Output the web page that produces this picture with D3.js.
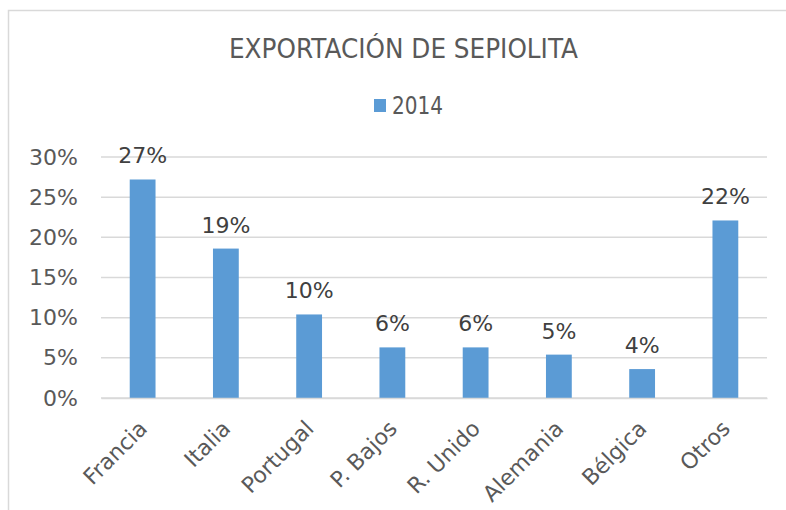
<!DOCTYPE html>
<html>
<head>
<meta charset="utf-8">
<script src="https://cdn.jsdelivr.net/npm/d3@7"></script>
<style>
  html, body { margin: 0; padding: 0; background: #fff; }
  svg { display: block; font-family: "DejaVu Sans", Verdana, sans-serif; }
</style>
</head>
<body>
<script>
const title = "EXPORTACIÓN DE SEPIOLITA";
const seriesName = "2014";
const categories = ["Francia", "Italia", "Portugal", "P. Bajos", "R. Unido", "Alemania", "Bélgica", "Otros"];
const values = [0.272, 0.186, 0.104, 0.063, 0.063, 0.054, 0.036, 0.221];
const valueLabels = ["27%", "19%", "10%", "6%", "6%", "5%", "4%", "22%"];
const yTicks = [0, 0.05, 0.10, 0.15, 0.20, 0.25, 0.30];

const W = 786, H = 510;
const margin = { left: 101, right: 19, top: 157, bottom: 112 };
const barColor = "#5b9bd5";
const gridColor = "#d9d9d9";
const textColor = "#595959";

const svg = d3.select("body").append("svg").attr("width", W).attr("height", H);

// chart border
svg.append("rect")
  .attr("x", 8.5).attr("y", 10.5).attr("width", 820).attr("height", 540)
  .attr("fill", "#fff").attr("stroke", gridColor).attr("stroke-width", 1.5);

const x = d3.scaleBand().domain(categories).range([margin.left, W - margin.right]).paddingInner(0.69).paddingOuter(0.345);
const y = d3.scaleLinear().domain([0, 0.30]).range([H - margin.bottom, margin.top]);

// gridlines
svg.append("g").selectAll("line").data(yTicks).join("line")
  .attr("x1", margin.left).attr("x2", W - margin.right)
  .attr("y1", d => y(d)).attr("y2", d => y(d))
  .attr("stroke", gridColor).attr("stroke-width", 1.5);

// y axis labels
const yAxis = d3.axisLeft(y).tickValues(yTicks).tickFormat(d3.format(".0%")).tickSize(0).tickPadding(0);
const gy = svg.append("g").attr("transform", `translate(${78},0)`).call(yAxis);
gy.select(".domain").remove();
gy.selectAll("text").attr("font-size", 22).attr("fill", textColor).attr("font-family", "DejaVu Sans");

// bars
svg.append("g").selectAll("rect").data(values).join("rect")
  .attr("x", (d, i) => x(categories[i]))
  .attr("width", x.bandwidth())
  .attr("y", d => y(d))
  .attr("height", d => y(0) - y(d))
  .attr("fill", barColor);

// value labels
svg.append("g").selectAll("text").data(values).join("text")
  .attr("x", (d, i) => x(categories[i]) + x.bandwidth() / 2)
  .attr("y", d => y(d) - 16)
  .attr("text-anchor", "middle")
  .attr("font-size", 22)
  .attr("fill", "#404040")
  .text((d, i) => valueLabels[i]);

// x axis
const xAxis = d3.axisBottom(x).tickSize(0).tickPadding(0);
const gx = svg.append("g").attr("transform", `translate(0,${y(0)})`).call(xAxis);
gx.select(".domain").attr("stroke", gridColor).attr("stroke-width", 1.5);
gx.selectAll("text")
  .attr("font-size", 22).attr("fill", textColor).attr("font-family", "DejaVu Sans")
  .attr("text-anchor", "end")
  .attr("dy", 0)
  .attr("transform", "translate(6,32) rotate(-45)");

// title
svg.append("text")
  .attr("x", 229).attr("y", 58)
  .attr("font-size", 27).attr("fill", textColor)
  .attr("textLength", 349).attr("lengthAdjust", "spacingAndGlyphs")
  .text(title);

// legend
svg.append("rect").attr("x", 374).attr("y", 99).attr("width", 12).attr("height", 13).attr("fill", barColor);
svg.append("text")
  .attr("x", 392).attr("y", 114)
  .attr("font-size", 24).attr("fill", textColor)
  .attr("textLength", 51).attr("lengthAdjust", "spacingAndGlyphs")
  .text(seriesName);
</script>
</body>
</html>
